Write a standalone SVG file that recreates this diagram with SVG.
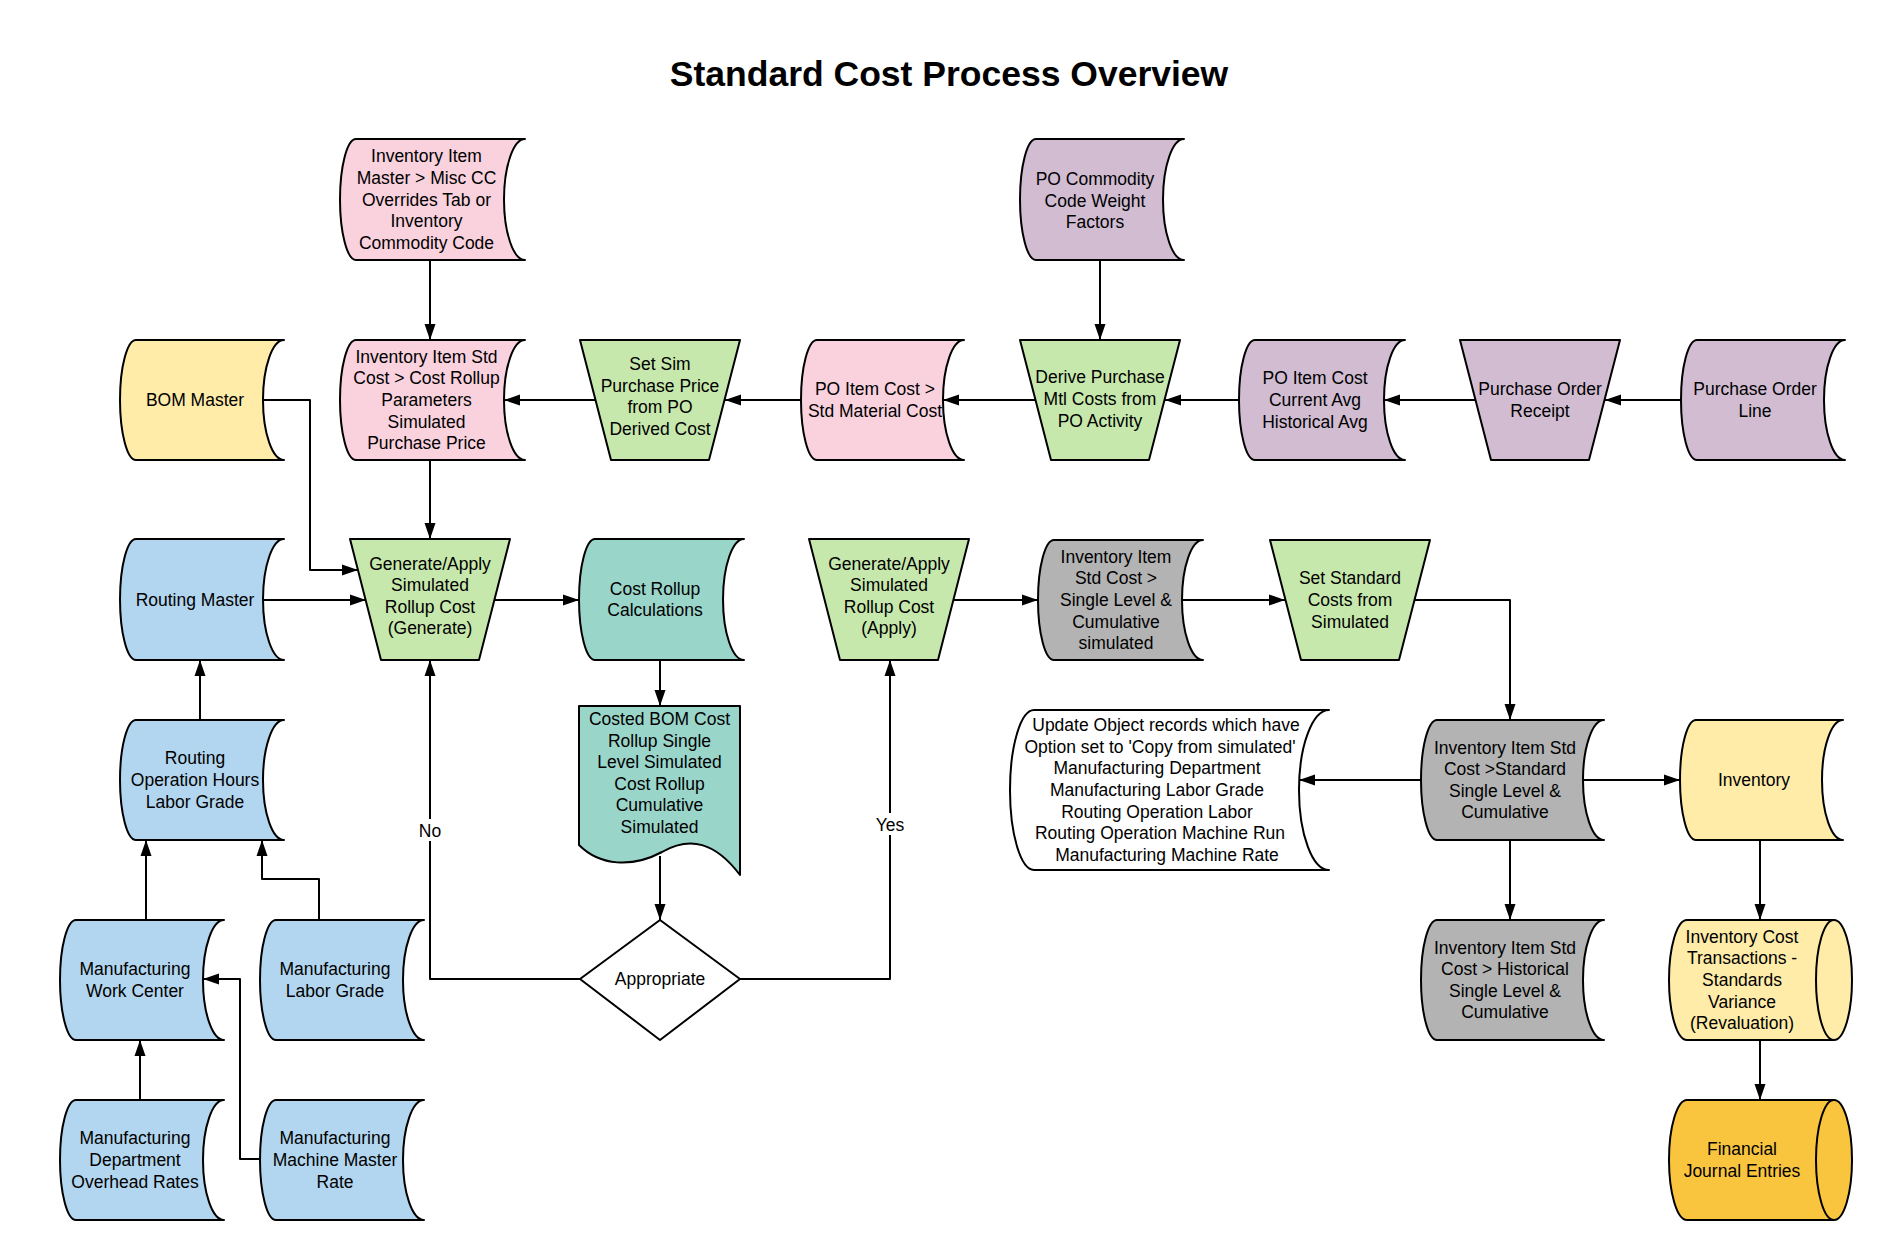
<svg xmlns="http://www.w3.org/2000/svg" width="1898" height="1260" viewBox="0 0 1898 1260">
<defs>
<style>
.s{stroke:#000;stroke-width:2;stroke-linejoin:round}
.t{font-family:"Liberation Sans",Arial,sans-serif;font-size:17.5px;text-anchor:middle;fill:#000}
.c{fill:none;stroke:#000;stroke-width:2;stroke-linejoin:round}
.pink{fill:#f9d2de}.purple{fill:#d1bcd2}.green{fill:#c7e8ac}.yellow{fill:#ffeca9}
.blue{fill:#b2d6ef}.teal{fill:#9ad5ca}.gray{fill:#b3b3b3}.orange{fill:#fac53e}.white{fill:#fff}
</style>
<marker id="a" markerWidth="16" markerHeight="12" refX="16" refY="6" orient="auto" markerUnits="userSpaceOnUse">
<path d="M0,0.5 L16,6 L0,11.5 Z" fill="#000"/>
</marker>
</defs>
<rect width="1898" height="1260" fill="#fff"/>
<text x="949" y="86" style="font-family:'Liberation Sans',Arial,sans-serif;font-size:35.5px;font-weight:bold;text-anchor:middle">Standard Cost Process Overview</text>

<g id="connectors">
<path class="c" marker-end="url(#a)" d="M430,260 V340"/>
<path class="c" marker-end="url(#a)" d="M430,460 V539"/>
<path class="c" marker-end="url(#a)" d="M595,400 H504"/>
<path class="c" marker-end="url(#a)" d="M801,400 H725"/>
<path class="c" marker-end="url(#a)" d="M1035,400 H943"/>
<path class="c" marker-end="url(#a)" d="M1100,260 V340"/>
<path class="c" marker-end="url(#a)" d="M1239,400 H1165"/>
<path class="c" marker-end="url(#a)" d="M1475,400 H1384"/>
<path class="c" marker-end="url(#a)" d="M1681,400 H1605"/>
<path class="c" marker-end="url(#a)" d="M263,400 H310 V570 H358"/>
<path class="c" marker-end="url(#a)" d="M263,600 H366"/>
<path class="c" marker-end="url(#a)" d="M494,600 H579"/>
<path class="c" marker-end="url(#a)" d="M660,660 V706"/>
<path class="c" marker-end="url(#a)" d="M660,856 V920"/>
<path class="c" marker-end="url(#a)" d="M580,979 H430 V660"/>
<path class="c" marker-end="url(#a)" d="M740,979 H890 V660"/>
<path class="c" marker-end="url(#a)" d="M954,600 H1038"/>
<path class="c" marker-end="url(#a)" d="M1182,600 H1285"/>
<path class="c" marker-end="url(#a)" d="M1415,600 H1510 V720"/>
<path class="c" marker-end="url(#a)" d="M1421,780 H1299"/>
<path class="c" marker-end="url(#a)" d="M1583,780 H1680"/>
<path class="c" marker-end="url(#a)" d="M1510,840 V920"/>
<path class="c" marker-end="url(#a)" d="M1760,840 V920"/>
<path class="c" marker-end="url(#a)" d="M1760,1040 V1100"/>
<path class="c" marker-end="url(#a)" d="M200,720 V660"/>
<path class="c" marker-end="url(#a)" d="M146,920 V840"/>
<path class="c" marker-end="url(#a)" d="M319,920 V879 H262 V840"/>
<path class="c" marker-end="url(#a)" d="M140,1100 V1040"/>
<path class="c" marker-end="url(#a)" d="M260,1159 H240 V979 H203"/>
<rect x="415" y="819" width="30" height="22" fill="#fff"/>
<text class="t" x="430" y="837">No</text>
<rect x="872" y="813" width="36" height="22" fill="#fff"/>
<text class="t" x="890" y="831">Yes</text>
</g>

<g id="invMaster">
<path class="s pink" d="M356,139 H525 A21,60.5 0 0 0 525,260 H356 A16,60.5 0 0 1 356,139 Z"/>
<text class="t" x="426.5" y="162.3"><tspan x="426.5">Inventory Item</tspan><tspan x="426.5" dy="21.6">Master &gt; Misc CC</tspan><tspan x="426.5" dy="21.6">Overrides Tab or</tspan><tspan x="426.5" dy="21.6">Inventory</tspan><tspan x="426.5" dy="21.6">Commodity Code</tspan></text>
</g>
<g id="invStdSim">
<path class="s pink" d="M356,340 H525 A21,60 0 0 0 525,460 H356 A16,60 0 0 1 356,340 Z"/>
<text class="t" x="426.5" y="362.8"><tspan x="426.5">Inventory Item Std</tspan><tspan x="426.5" dy="21.6">Cost &gt; Cost Rollup</tspan><tspan x="426.5" dy="21.6">Parameters</tspan><tspan x="426.5" dy="21.6">Simulated</tspan><tspan x="426.5" dy="21.6">Purchase Price</tspan></text>
</g>
<g id="bom">
<path class="s yellow" d="M136,340 H284 A21,60 0 0 0 284,460 H136 A16,60 0 0 1 136,340 Z"/>
<text class="t" x="195" y="406">BOM Master</text>
</g>
<g id="setSim">
<path class="s green" d="M580,340 H740 L709,460 H611 Z"/>
<text class="t" x="660" y="370"><tspan x="660">Set Sim</tspan><tspan x="660" dy="21.6">Purchase Price</tspan><tspan x="660" dy="21.6">from PO</tspan><tspan x="660" dy="21.6">Derived Cost</tspan></text>
</g>
<g id="poItemStd">
<path class="s pink" d="M817,340 H964 A21,60 0 0 0 964,460 H817 A16,60 0 0 1 817,340 Z"/>
<text class="t" x="875" y="395.2"><tspan x="875">PO Item Cost &gt;</tspan><tspan x="875" dy="21.6">Std Material Cost</tspan></text>
</g>
<g id="poCommodity">
<path class="s purple" d="M1036,139 H1184 A21,60.5 0 0 0 1184,260 H1036 A16,60.5 0 0 1 1036,139 Z"/>
<text class="t" x="1095" y="184.9"><tspan x="1095">PO Commodity</tspan><tspan x="1095" dy="21.6">Code Weight</tspan><tspan x="1095" dy="21.6">Factors</tspan></text>
</g>
<g id="derive">
<path class="s green" d="M1020,340 H1180 L1149,460 H1051 Z"/>
<text class="t" x="1100" y="383.4"><tspan x="1100">Derive Purchase</tspan><tspan x="1100" dy="21.6">Mtl Costs from</tspan><tspan x="1100" dy="21.6">PO Activity</tspan></text>
</g>
<g id="poCurrent">
<path class="s purple" d="M1255,340 H1405 A21,60 0 0 0 1405,460 H1255 A16,60 0 0 1 1255,340 Z"/>
<text class="t" x="1315" y="384.4"><tspan x="1315">PO Item Cost</tspan><tspan x="1315" dy="21.6">Current Avg</tspan><tspan x="1315" dy="21.6">Historical Avg</tspan></text>
</g>
<g id="receipt">
<path class="s purple" d="M1460,340 H1620 L1589,460 H1491 Z"/>
<text class="t" x="1540" y="395.2"><tspan x="1540">Purchase Order</tspan><tspan x="1540" dy="21.6">Receipt</tspan></text>
</g>
<g id="poLine">
<path class="s purple" d="M1697,340 H1845 A21,60 0 0 0 1845,460 H1697 A16,60 0 0 1 1697,340 Z"/>
<text class="t" x="1755" y="395.2"><tspan x="1755">Purchase Order</tspan><tspan x="1755" dy="21.6">Line</tspan></text>
</g>
<g id="routingMaster">
<path class="s blue" d="M136,539 H284 A21,60.5 0 0 0 284,660 H136 A16,60.5 0 0 1 136,539 Z"/>
<text class="t" x="195" y="605.5">Routing Master</text>
</g>
<g id="generate">
<path class="s green" d="M350,539 H510 L479,660 H381 Z"/>
<text class="t" x="430" y="569.6"><tspan x="430">Generate/Apply</tspan><tspan x="430" dy="21.6">Simulated</tspan><tspan x="430" dy="21.6">Rollup Cost</tspan><tspan x="430" dy="21.6">(Generate)</tspan></text>
</g>
<g id="costRollup">
<path class="s teal" d="M595,539 H744 A21,60.5 0 0 0 744,660 H595 A16,60.5 0 0 1 595,539 Z"/>
<text class="t" x="655" y="594.7"><tspan x="655">Cost Rollup</tspan><tspan x="655" dy="21.6">Calculations</tspan></text>
</g>
<g id="apply">
<path class="s green" d="M809,539 H969 L938,660 H840 Z"/>
<text class="t" x="889" y="569.6"><tspan x="889">Generate/Apply</tspan><tspan x="889" dy="21.6">Simulated</tspan><tspan x="889" dy="21.6">Rollup Cost</tspan><tspan x="889" dy="21.6">(Apply)</tspan></text>
</g>
<g id="graySim">
<path class="s gray" d="M1054,540 H1203 A21,60 0 0 0 1203,660 H1054 A16,60 0 0 1 1054,540 Z"/>
<text class="t" x="1116" y="562.8"><tspan x="1116">Inventory Item</tspan><tspan x="1116" dy="21.6">Std Cost &gt;</tspan><tspan x="1116" dy="21.6">Single Level &amp;</tspan><tspan x="1116" dy="21.6">Cumulative</tspan><tspan x="1116" dy="21.6">simulated</tspan></text>
</g>
<g id="setStandard">
<path class="s green" d="M1270,540 H1430 L1399,660 H1301 Z"/>
<text class="t" x="1350" y="584.4"><tspan x="1350">Set Standard</tspan><tspan x="1350" dy="21.6">Costs from</tspan><tspan x="1350" dy="21.6">Simulated</tspan></text>
</g>
<g id="routingOp">
<path class="s blue" d="M136,720 H284 A21,60 0 0 0 284,840 H136 A16,60 0 0 1 136,720 Z"/>
<text class="t" x="195" y="764.4"><tspan x="195">Routing</tspan><tspan x="195" dy="21.6">Operation Hours</tspan><tspan x="195" dy="21.6">Labor Grade</tspan></text>
</g>
<g id="costedBom">
<path class="s teal" d="M579,706 H740 V875 C715,842 690,836 662,852 C632,868 600,866 579,845 Z"/>
<text class="t" x="659.5" y="725"><tspan x="659.5">Costed BOM Cost</tspan><tspan x="659.5" dy="21.6">Rollup Single</tspan><tspan x="659.5" dy="21.6">Level Simulated</tspan><tspan x="659.5" dy="21.6">Cost Rollup</tspan><tspan x="659.5" dy="21.6">Cumulative</tspan><tspan x="659.5" dy="21.6">Simulated</tspan></text>
</g>
<g id="update">
<path class="s white" d="M1034,710 H1329 A30,80 0 0 0 1329,870 H1034 A24,80 0 0 1 1034,710 Z"/>
<text class="t" x="1166" y="731.2"><tspan x="1166">Update Object records which have</tspan><tspan x="1160" dy="21.6">Option set to 'Copy from simulated'</tspan><tspan x="1157" dy="21.6">Manufacturing Department</tspan><tspan x="1157" dy="21.6">Manufacturing Labor Grade</tspan><tspan x="1157" dy="21.6">Routing Operation Labor</tspan><tspan x="1160" dy="21.6">Routing Operation Machine Run</tspan><tspan x="1167" dy="21.6">Manufacturing Machine Rate</tspan></text>
</g>
<g id="invStd">
<path class="s gray" d="M1437,720 H1604 A21,60 0 0 0 1604,840 H1437 A16,60 0 0 1 1437,720 Z"/>
<text class="t" x="1505" y="753.6"><tspan x="1505">Inventory Item Std</tspan><tspan x="1505" dy="21.6">Cost &gt;Standard</tspan><tspan x="1505" dy="21.6">Single Level &amp;</tspan><tspan x="1505" dy="21.6">Cumulative</tspan></text>
</g>
<g id="inventory">
<path class="s yellow" d="M1696,720 H1843 A21,60 0 0 0 1843,840 H1696 A16,60 0 0 1 1696,720 Z"/>
<text class="t" x="1754" y="786">Inventory</text>
</g>
<g id="appropriate">
<path class="s white" d="M660,920 L740,979 L660,1040 L580,979 Z"/>
<text class="t" x="660" y="985">Appropriate</text>
</g>
<g id="workCenter">
<path class="s blue" d="M76,920 H224 A21,60 0 0 0 224,1040 H76 A16,60 0 0 1 76,920 Z"/>
<text class="t" x="135" y="975.2"><tspan x="135">Manufacturing</tspan><tspan x="135" dy="21.6">Work Center</tspan></text>
</g>
<g id="laborGrade">
<path class="s blue" d="M276,920 H424 A21,60 0 0 0 424,1040 H276 A16,60 0 0 1 276,920 Z"/>
<text class="t" x="335" y="975.2"><tspan x="335">Manufacturing</tspan><tspan x="335" dy="21.6">Labor Grade</tspan></text>
</g>
<g id="historical">
<path class="s gray" d="M1437,920 H1604 A21,60 0 0 0 1604,1040 H1437 A16,60 0 0 1 1437,920 Z"/>
<text class="t" x="1505" y="953.6"><tspan x="1505">Inventory Item Std</tspan><tspan x="1505" dy="21.6">Cost &gt; Historical</tspan><tspan x="1505" dy="21.6">Single Level &amp;</tspan><tspan x="1505" dy="21.6">Cumulative</tspan></text>
</g>
<g id="invCostTrans">
<path class="s yellow" d="M1687,920 H1834 A18,60 0 0 1 1834,1040 H1687 A18,60 0 0 1 1687,920 Z"/>
<path class="c" d="M1834,920 A18,60 0 0 0 1834,1040"/>
<text class="t" x="1742" y="942.8"><tspan x="1742">Inventory Cost</tspan><tspan x="1742" dy="21.6">Transactions -</tspan><tspan x="1742" dy="21.6">Standards</tspan><tspan x="1742" dy="21.6">Variance</tspan><tspan x="1742" dy="21.6">(Revaluation)</tspan></text>
</g>
<g id="deptOverhead">
<path class="s blue" d="M76,1100 H224 A21,60 0 0 0 224,1220 H76 A16,60 0 0 1 76,1100 Z"/>
<text class="t" x="135" y="1144.4"><tspan x="135">Manufacturing</tspan><tspan x="135" dy="21.6">Department</tspan><tspan x="135" dy="21.6">Overhead Rates</tspan></text>
</g>
<g id="machine">
<path class="s blue" d="M276,1100 H424 A21,60 0 0 0 424,1220 H276 A16,60 0 0 1 276,1100 Z"/>
<text class="t" x="335" y="1144.4"><tspan x="335">Manufacturing</tspan><tspan x="335" dy="21.6">Machine Master</tspan><tspan x="335" dy="21.6">Rate</tspan></text>
</g>
<g id="financial">
<path class="s orange" d="M1687,1100 H1834 A18,60 0 0 1 1834,1220 H1687 A18,60 0 0 1 1687,1100 Z"/>
<path class="c" d="M1834,1100 A18,60 0 0 0 1834,1220"/>
<text class="t" x="1742" y="1155.2"><tspan x="1742">Financial</tspan><tspan x="1742" dy="21.6">Journal Entries</tspan></text>
</g>
</svg>
